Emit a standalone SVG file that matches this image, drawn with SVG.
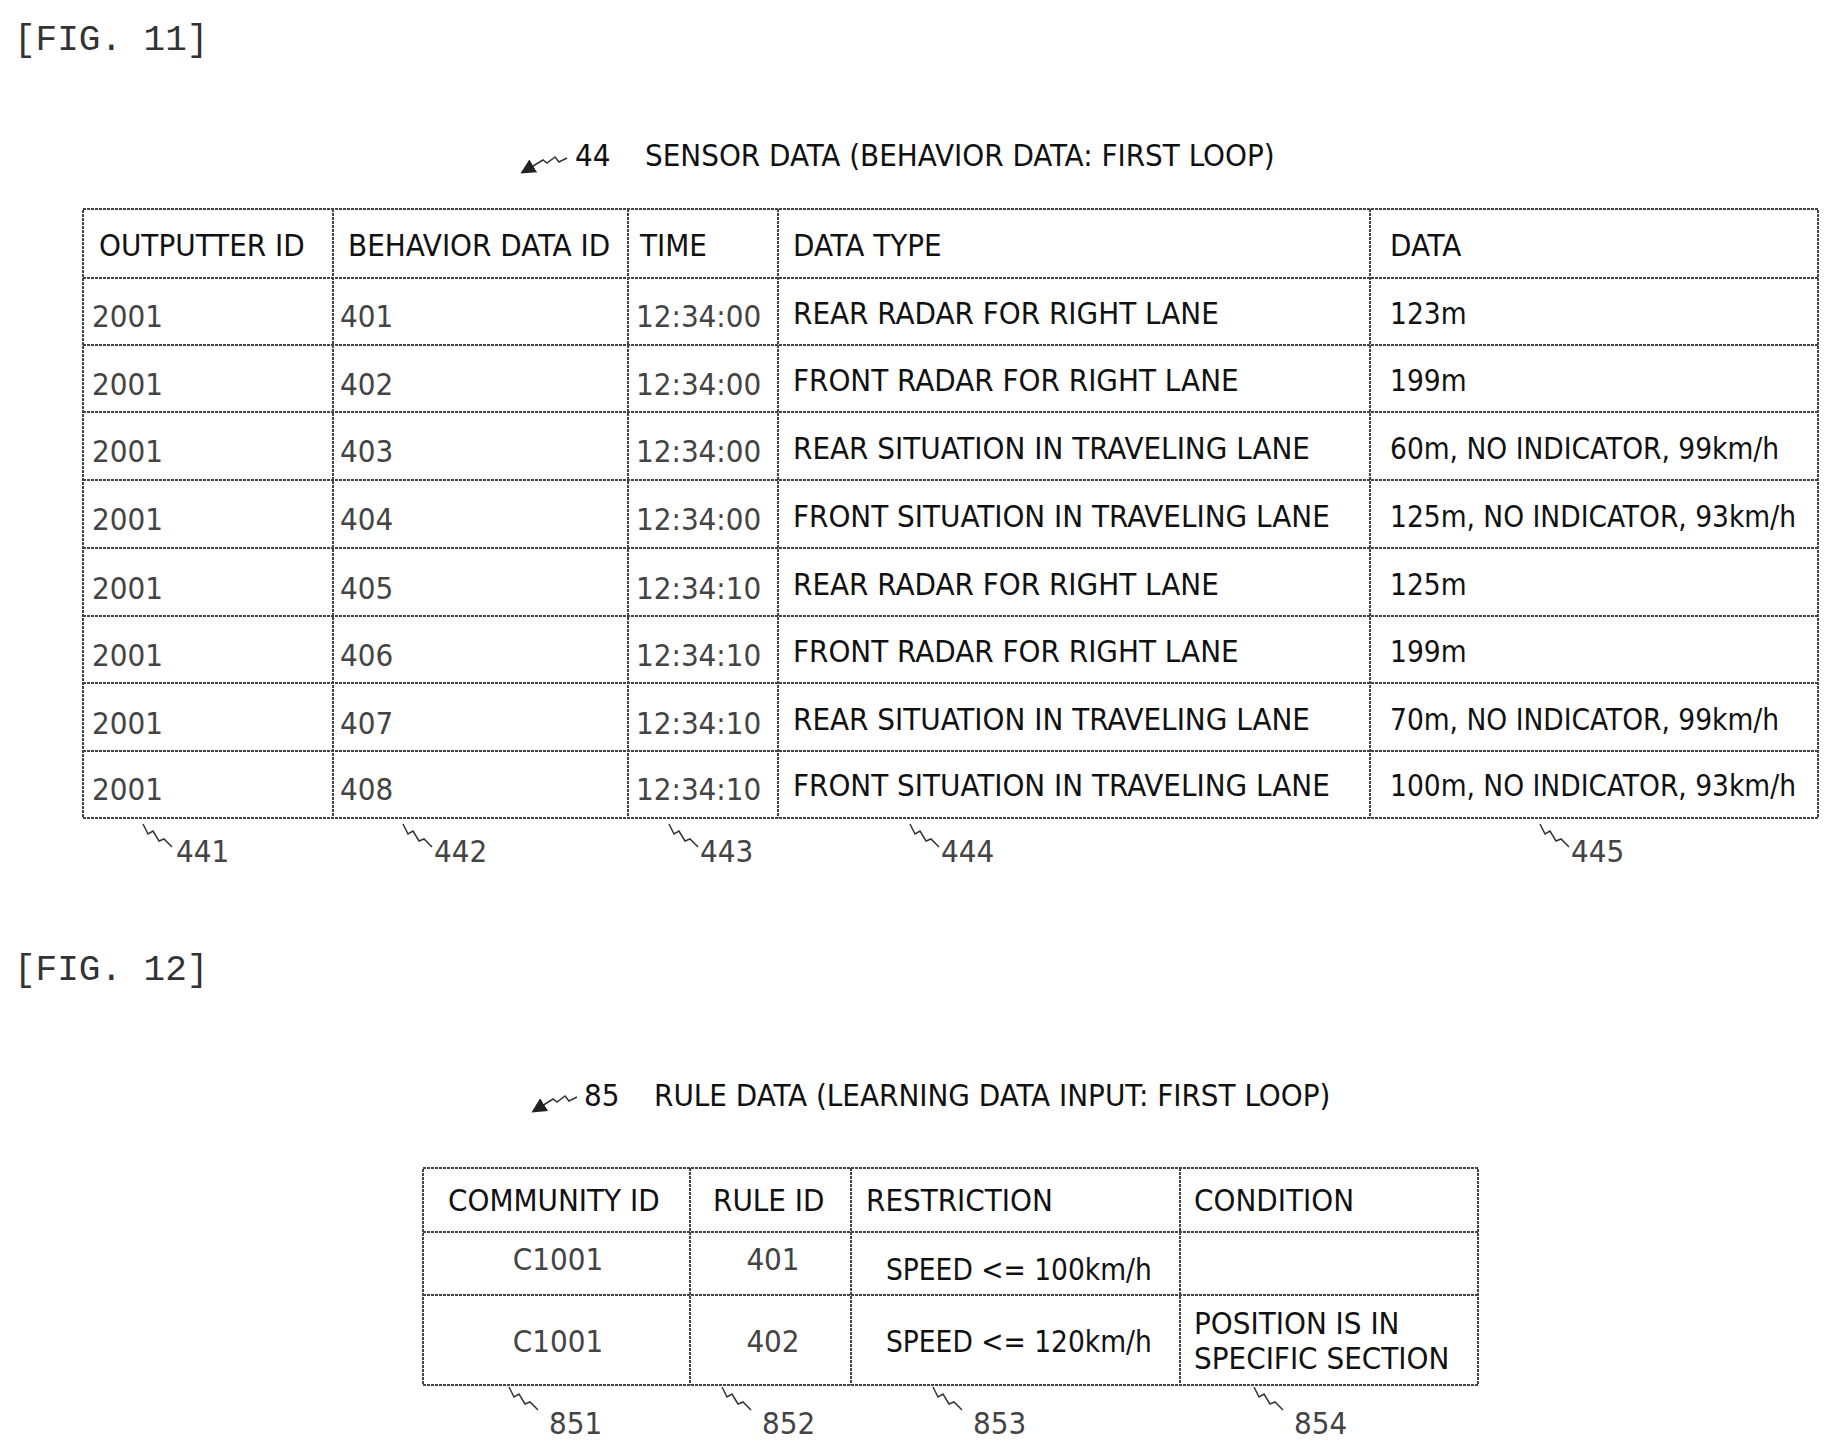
<svg xmlns="http://www.w3.org/2000/svg" width="1841" height="1455" viewBox="0 0 1841 1455">
<style>
.t{font-family:'Liberation Sans Narrow','DejaVu Sans Condensed','Liberation Sans',sans-serif;font-size:31px;fill:#111}
.d{font-size:29.5px}
.g{fill:#444}
.fig{font-family:'Liberation Mono','DejaVu Sans Mono',monospace;font-size:36px;fill:#333}
.ln{stroke:#444;stroke-width:2;fill:none;stroke-dasharray:3 1}
.sq{stroke:#333;stroke-width:1.5;fill:none}
.c{text-anchor:middle}
</style>
<defs><marker id="ah" markerWidth="10" markerHeight="10" refX="8" refY="5" orient="auto"><path d="M0,0L10,5L0,10z" fill="#222"/></marker></defs>
<rect width="1841" height="1455" fill="#fff"/>
<text class="fig" x="14" y="50">[FIG. 11]</text>
<text class="fig" x="14" y="980">[FIG. 12]</text>

<g id="connectors">
<path class="sq" d="M567,158 l-8,4 l-4,-5 l-8,6 l-4,-3 l-20,12" marker-end="url(#ah)"/>
<path class="sq" d="M577,1097 l-8,4 l-4,-5 l-8,6 l-4,-3 l-19,12" marker-end="url(#ah)"/>
<path class="sq" d="M143,824 l5,10 l5,-3 l6,10 l5,-2 l8,8"/>
<path class="sq" d="M403,824 l5,10 l5,-3 l6,10 l5,-2 l8,8"/>
<path class="sq" d="M669,824 l5,10 l5,-3 l6,10 l5,-2 l8,8"/>
<path class="sq" d="M910,824 l5,10 l5,-3 l6,10 l5,-2 l8,8"/>
<path class="sq" d="M1540,824 l5,10 l5,-3 l6,10 l5,-2 l8,8"/>
<path class="sq" d="M509,1387 l5,10 l5,-3 l6,10 l5,-2 l8,8"/>
<path class="sq" d="M722,1387 l5,10 l5,-3 l6,10 l5,-2 l8,8"/>
<path class="sq" d="M933,1387 l5,10 l5,-3 l6,10 l5,-2 l8,8"/>
<path class="sq" d="M1254,1387 l5,10 l5,-3 l6,10 l5,-2 l8,8"/>
</g>

<g id="table44">
<text class="t" x="575" y="166">44</text>
<text class="t" x="645" y="166">SENSOR DATA (BEHAVIOR DATA: FIRST LOOP)</text>
<rect class="ln" x="83" y="209" width="1735" height="609"/>
<path class="ln" d="M333,209V818M628,209V818M778,209V818M1370,209V818M83,278H1818M83,345H1818M83,412H1818M83,480H1818M83,548H1818M83,616H1818M83,683H1818M83,751H1818"/>
<text class="t" x="99" y="256">OUTPUTTER ID</text><text class="t" x="348" y="256">BEHAVIOR DATA ID</text><text class="t" x="640" y="256">TIME</text><text class="t" x="793" y="256">DATA TYPE</text><text class="t" x="1390" y="256">DATA</text>
<g class="t">
<text class="g" x="92" y="327">2001</text><text class="g" x="340" y="327">401</text><text class="g" x="636" y="327">12:34:00</text><text x="793" y="324">REAR RADAR FOR RIGHT LANE</text><text class="d" x="1390" y="324">123m</text>
<text class="g" x="92" y="395">2001</text><text class="g" x="340" y="395">402</text><text class="g" x="636" y="395">12:34:00</text><text x="793" y="391">FRONT RADAR FOR RIGHT LANE</text><text class="d" x="1390" y="391">199m</text>
<text class="g" x="92" y="462">2001</text><text class="g" x="340" y="462">403</text><text class="g" x="636" y="462">12:34:00</text><text x="793" y="459">REAR SITUATION IN TRAVELING LANE</text><text class="d" x="1390" y="459">60m, NO INDICATOR, 99km/h</text>
<text class="g" x="92" y="530">2001</text><text class="g" x="340" y="530">404</text><text class="g" x="636" y="530">12:34:00</text><text x="793" y="527">FRONT SITUATION IN TRAVELING LANE</text><text class="d" x="1390" y="527">125m, NO INDICATOR, 93km/h</text>
<text class="g" x="92" y="599">2001</text><text class="g" x="340" y="599">405</text><text class="g" x="636" y="599">12:34:10</text><text x="793" y="595">REAR RADAR FOR RIGHT LANE</text><text class="d" x="1390" y="595">125m</text>
<text class="g" x="92" y="666">2001</text><text class="g" x="340" y="666">406</text><text class="g" x="636" y="666">12:34:10</text><text x="793" y="662">FRONT RADAR FOR RIGHT LANE</text><text class="d" x="1390" y="662">199m</text>
<text class="g" x="92" y="734">2001</text><text class="g" x="340" y="734">407</text><text class="g" x="636" y="734">12:34:10</text><text x="793" y="730">REAR SITUATION IN TRAVELING LANE</text><text class="d" x="1390" y="730">70m, NO INDICATOR, 99km/h</text>
<text class="g" x="92" y="800">2001</text><text class="g" x="340" y="800">408</text><text class="g" x="636" y="800">12:34:10</text><text x="793" y="796">FRONT SITUATION IN TRAVELING LANE</text><text class="d" x="1390" y="796">100m, NO INDICATOR, 93km/h</text>
</g>
<g class="t g"><text x="176" y="862">441</text><text x="434" y="862">442</text><text x="700" y="862">443</text><text x="941" y="862">444</text><text x="1571" y="862">445</text></g>
</g>

<g id="table85">
<text class="t" x="584" y="1106">85</text>
<text class="t" x="654" y="1106">RULE DATA (LEARNING DATA INPUT: FIRST LOOP)</text>
<rect class="ln" x="423" y="1168" width="1055" height="217"/>
<path class="ln" d="M690,1168V1385M851,1168V1385M1180,1168V1385M423,1232H1478M423,1295H1478"/>
<text class="t" x="448" y="1211">COMMUNITY ID</text><text class="t" x="713" y="1211">RULE ID</text><text class="t" x="866" y="1211">RESTRICTION</text><text class="t" x="1194" y="1211">CONDITION</text>
<text class="t g c" x="558" y="1270">C1001</text><text class="t g c" x="773" y="1270">401</text><text class="t d" x="886" y="1280">SPEED &lt;= 100km/h</text>
<text class="t g c" x="558" y="1352">C1001</text><text class="t g c" x="773" y="1352">402</text><text class="t d" x="886" y="1352">SPEED &lt;= 120km/h</text>
<text class="t" x="1194" y="1334">POSITION IS IN</text><text class="t" x="1194" y="1369">SPECIFIC SECTION</text>
<g class="t g"><text x="549" y="1434">851</text><text x="762" y="1434">852</text><text x="973" y="1434">853</text><text x="1294" y="1434">854</text></g>
</g>
</svg>
